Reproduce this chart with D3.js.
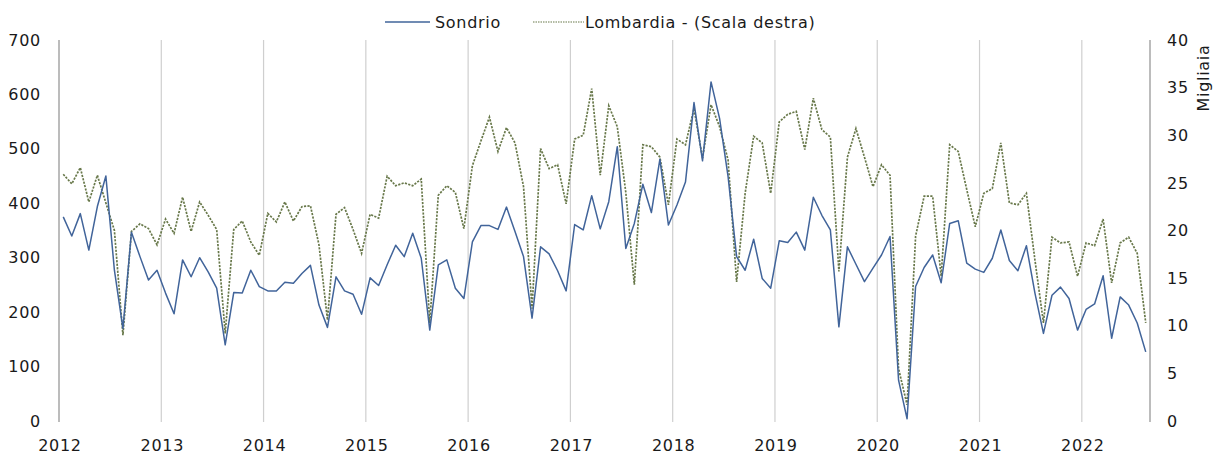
<!DOCTYPE html>
<html>
<head>
<meta charset="utf-8">
<script src="https://cdn.jsdelivr.net/npm/d3@7"></script>
<style>
  html, body { margin: 0; padding: 0; background: #ffffff; }
  svg { display: block; font-family: "DejaVu Sans", Verdana, sans-serif; }
</style>
</head>
<body>
<svg id="chart" width="1213" height="455"></svg>
<script>
// Monthly series, January 2012 - August 2022
const startMonth = new Date(2012, 0, 1);
const monthCount = 128;

const sondrio = [
  375, 340, 381, 314, 394, 450, 277, 170, 347, 302, 259, 277,
  235, 197, 296, 265, 300, 274, 244, 140, 236, 235, 277, 247,
  239, 239, 255, 253, 271, 286, 213, 172, 265, 239, 233, 196,
  263, 249, 287, 323, 302, 345, 299, 167, 287, 296, 244, 225,
  329, 359, 359, 352, 393, 348, 302, 189, 320, 307, 276, 239,
  361, 351, 414, 353, 403, 504, 317, 363, 435, 383, 481, 360,
  397, 439, 585, 478, 623, 556, 449, 302, 277, 334, 262, 244,
  331, 328, 347, 314, 411, 378, 351, 173, 320, 288, 256, 281,
  305, 339, 75, 4, 247, 282, 305, 254, 363, 368, 290, 279,
  273, 299, 351, 295, 276, 322, 235, 161, 231, 246, 225, 167,
  205, 215, 267, 152, 228, 213, 180, 127
];

// thousands (right axis)
const lombardia = [
  25.9, 24.9, 26.6, 23.0, 25.8, 22.9, 20.0, 9.0, 19.9, 20.7, 20.2, 18.5,
  21.2, 19.7, 23.5, 19.9, 23.0, 21.6, 20.1, 9.2, 20.1, 21.0, 18.8, 17.4,
  21.8, 20.9, 23.0, 21.0, 22.5, 22.6, 18.5, 10.6, 21.7, 22.4, 20.1, 17.6,
  21.7, 21.3, 25.7, 24.7, 25.0, 24.7, 25.4, 10.3, 23.7, 24.7, 24.0, 20.2,
  26.8, 29.4, 31.9, 28.3, 30.8, 29.2, 24.6, 11.8, 28.6, 26.5, 26.9, 22.8,
  29.6, 30.0, 34.9, 25.8, 33.1, 30.9, 24.0, 14.3, 29.0, 28.8, 27.7, 22.7,
  29.6, 29.0, 32.8, 27.6, 33.2, 30.9, 27.4, 14.6, 23.9, 29.9, 29.2, 23.9,
  31.4, 32.2, 32.5, 28.5, 33.9, 30.6, 29.8, 15.7, 27.7, 30.7, 27.7, 24.6,
  26.9, 25.8, 5.5, 1.7, 19.4, 23.6, 23.6, 15.2, 29.0, 28.3, 24.3, 20.4,
  23.9, 24.4, 29.2, 22.9, 22.7, 23.9, 16.9, 10.3, 19.3, 18.7, 18.8, 15.2,
  18.7, 18.4, 21.2, 14.5, 18.7, 19.3, 17.6, 10.3
];

const yearLabels = ["2012", "2013", "2014", "2015", "2016", "2017", "2018", "2019", "2020", "2021", "2022"];
const leftTicks = [0, 100, 200, 300, 400, 500, 600, 700];
const rightTicks = [0, 5, 10, 15, 20, 25, 30, 35, 40];

const seriesNames = ["Sondrio", "Lombardia - (Scala destra)"];
const colors = { sondrio: "#41649a", lombardia: "#68784a" };

const months = d3.timeMonth.range(startMonth, d3.timeMonth.offset(startMonth, monthCount));

const plot = { left: 59, right: 1150, top: 40, bottom: 421 };
const svg = d3.select("#chart");

const x = d3.scaleBand().domain(months.map(d => +d)).range([plot.left, plot.right]).paddingInner(0).paddingOuter(0);
const xc = i => x(+months[i]) + x.bandwidth() / 2;
const yL = d3.scaleLinear().domain([0, 700]).range([plot.bottom, plot.top]);
const yR = d3.scaleLinear().domain([0, 40]).range([plot.bottom, plot.top]);

// vertical year gridlines
const yearStarts = yearLabels.map(y => new Date(+y, 0, 1));
svg.append("g").selectAll("line").data(yearStarts.slice(1)).join("line")
  .attr("x1", d => x(+d)).attr("x2", d => x(+d))
  .attr("y1", plot.top).attr("y2", plot.bottom + 1)
  .attr("stroke", "#cfcfcf").attr("stroke-width", 1.2);

// left and right axis lines
[plot.left, plot.right].forEach(px => {
  svg.append("line")
    .attr("x1", px).attr("x2", px)
    .attr("y1", plot.top).attr("y2", plot.bottom + 1)
    .attr("stroke", "#a6a6a6").attr("stroke-width", 1.5);
});

const fontSize = 16;
const spacing = "0.7px";
const textColor = "#1a1a1a";

function styleText(sel) {
  sel.attr("font-size", fontSize).attr("fill", textColor)
    .attr("letter-spacing", spacing)
    .attr("font-family", "DejaVu Sans, Verdana, sans-serif");
}

// left axis labels
const axL = d3.axisLeft(yL).tickValues(leftTicks).tickSize(0).tickPadding(18);
const gL = svg.append("g").attr("transform", `translate(${plot.left},0)`).call(axL);
gL.select(".domain").remove();
gL.selectAll("text").call(styleText);

// right axis labels
const axR = d3.axisRight(yR).tickValues(rightTicks).tickSize(0).tickPadding(17);
const gR = svg.append("g").attr("transform", `translate(${plot.right},0)`).call(axR);
gR.select(".domain").remove();
gR.selectAll("text").call(styleText);

// year labels under gridlines
svg.append("g").selectAll("text").data(yearLabels).join("text")
  .attr("x", (d, i) => x(+yearStarts[i]) + 1)
  .attr("y", 451)
  .attr("text-anchor", "middle")
  .call(styleText)
  .text(d => d);

// right axis title
svg.append("text")
  .attr("transform", "translate(1209,78) rotate(-90)")
  .attr("text-anchor", "middle")
  .call(styleText)
  .text("Migliaia");

// series lines
const lineL = d3.line().x((d, i) => xc(i)).y(d => yL(d));
const lineR = d3.line().x((d, i) => xc(i)).y(d => yR(d));

svg.append("path").datum(lombardia)
  .attr("d", lineR)
  .attr("fill", "none")
  .attr("stroke", colors.lombardia)
  .attr("stroke-width", 1.7)
  .attr("stroke-dasharray", "2.2,1.3");

svg.append("path").datum(sondrio)
  .attr("d", lineL)
  .attr("fill", "none")
  .attr("stroke", colors.sondrio)
  .attr("stroke-width", 1.5)
  .attr("stroke-linejoin", "round");

// legend
const legend = svg.append("g");
legend.append("line").attr("x1", 385).attr("x2", 430).attr("y1", 22).attr("y2", 22)
  .attr("stroke", colors.sondrio).attr("stroke-width", 1.5);
legend.append("text").attr("x", 435).attr("y", 28)
  .call(styleText).text(seriesNames[0]);
legend.append("line").attr("x1", 533).attr("x2", 584).attr("y1", 22).attr("y2", 22)
  .attr("stroke", colors.lombardia).attr("stroke-width", 1.2).attr("stroke-dasharray", "1.5,1");
legend.append("text").attr("x", 585).attr("y", 28)
  .call(styleText).text(seriesNames[1]);
</script>
</body>
</html>
